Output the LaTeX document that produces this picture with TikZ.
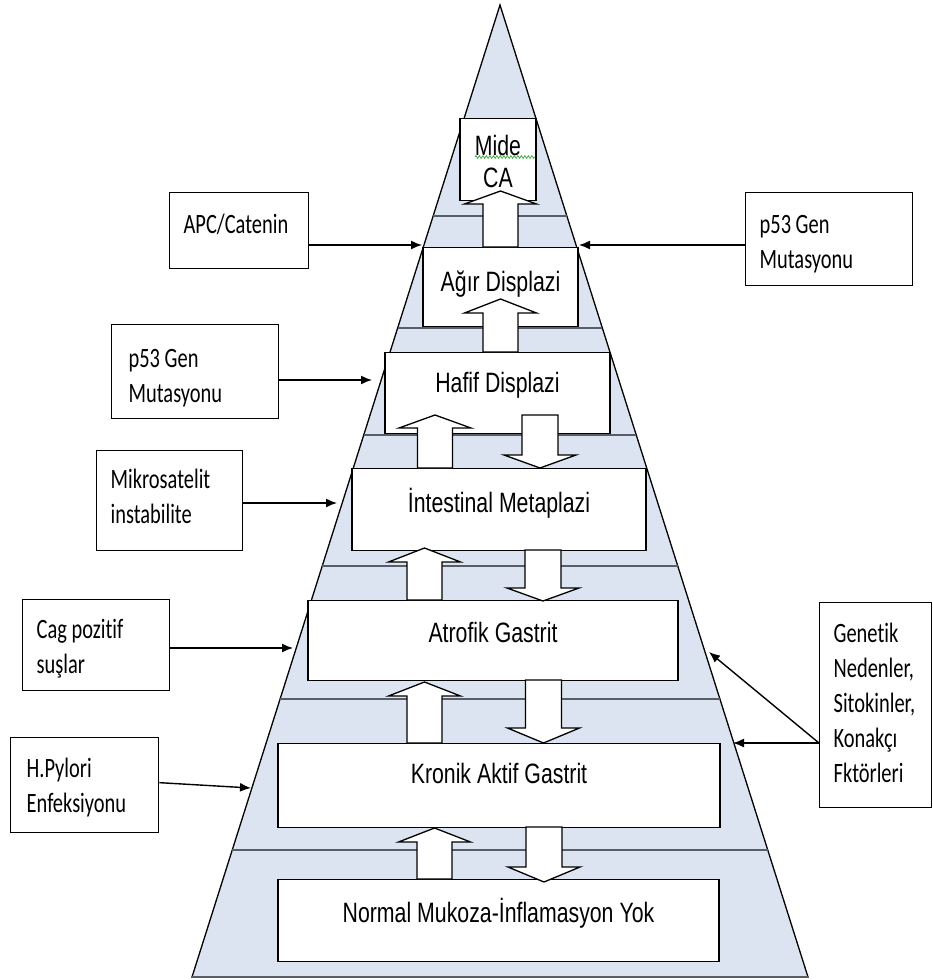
\documentclass[tikz,border=0pt]{standalone}
\usepackage{fontspec}
\newfontfamily\stagefont[FakeStretch=0.76]{Liberation Sans}
\newfontfamily\notefont[FakeStretch=0.73, Ligatures=NoCommon]{Carlito}
\usepackage{tikz}
\usetikzlibrary{arrows.meta, calc, positioning, decorations.pathmorphing}
\pgfdeclarelayer{pyrlayer}
\pgfdeclarelayer{arrowlayer}
\pgfsetlayers{pyrlayer,main,arrowlayer}

\definecolor{pyrblue}{RGB}{219,228,240}
\definecolor{bandgray}{RGB}{88,94,104}
\definecolor{spellgreen}{RGB}{60,170,60}

\tikzset{
	pyramid/.style={fill=pyrblue, draw=black, line width=1.3pt},
	band/.style={draw=bandgray, line width=2.2pt},
	stage/.style={draw=black, fill=white, line width=1.3pt, inner sep=0pt, anchor=north,
		font={\stagefont\fontsize{28}{32}\selectfont}, align=center,
		execute at begin node={\spaceskip=6pt plus 1pt minus 1pt}},
	note/.style={draw=black, fill=white, line width=1.3pt, inner ysep=0pt, anchor=north west,
		font={\notefont\fontsize{28}{35}\selectfont}, align=left,
		execute at begin node={\hyphenpenalty=10000\exhyphenpenalty=10000\spaceskip=4.6pt plus 1pt minus 1pt}},
	feed/.style={-{Latex[length=11pt,width=9pt]}, line width=1.4pt},
	blockarr/.style={draw=black, fill=white, line width=1.3pt, line join=miter},
	squiggle/.style={draw=spellgreen, line width=0.8pt, decorate,
		decoration={zigzag, amplitude=1.3pt, segment length=3.5pt}},
}

\begin{document}
\begin{tikzpicture}[x=1pt, y=-1pt]
	\useasboundingbox (0,0) rectangle (933,980);
	% pyramid and its bands
	\begin{pgfonlayer}{pyrlayer}
		\coordinate (apex) at (500,5);
		\coordinate (bl) at (192,977);
		\coordinate (br) at (808,977);
		\filldraw [pyramid] (apex) -- (bl) -- (br) -- cycle;
		\foreach \y in {216,328,435,566,699,850}
			\draw [band] ($(apex)!{(\y-5)/972}!(bl)$) to ($(apex)!{(\y-5)/972}!(br)$);
		\draw [band] (bl) to (br);
	\end{pgfonlayer}

	% stages
	\node [stage, minimum width=76pt, text height=69pt, text depth=13pt] (mide) at (498,118) {Mide\\CA};
	\node [stage, minimum width=155pt, text height=44pt, text depth=35pt] (agir) at (500.5,247) {Ağır Displazi};
	\node [stage, minimum width=225pt, text height=40pt, text depth=41pt] (hafif) at (497.5,352) {Hafif Displazi};
	\node [stage, minimum width=294pt, text height=44pt, text depth=38pt] (intest) at (499,468) {İntestinal Metaplazi};
	\node [stage, minimum width=370pt, text height=42pt, text depth=38pt] (atrof) at (493,600) {Atrofik Gastrit};
	\node [stage, minimum width=442pt, text height=40pt, text depth=44pt] (kronik) at (499,743) {Kronik Aktif Gastrit};
	\node [stage, minimum width=441pt, text height=43pt, text depth=39pt] (normal) at (498.5,879) {Normal Mukoza-İnflamasyon Yok};

	% factors
	\node [note, inner xsep=14pt, text width=111pt, text height=41pt, text depth=35pt] (apc) at (169,192) {APC/Catenin};
	\node [note, inner xsep=17pt, text width=133pt, text height=43pt, text depth=51pt] (p53l) at (111,324) {p53 Gen\\Mutasyonu};
	\node [note, inner xsep=14pt, text width=118pt, text height=38pt, text depth=62pt] (mikro) at (96,450) {Mikrosatelit\\instabilite};
	\node [note, inner xsep=14pt, text width=119pt, text height=39pt, text depth=52pt] (cag) at (22,599) {Cag pozitif\\suşlar};
	\node [note, inner xsep=16pt, text width=116pt, text height=40pt, text depth=55pt] (hpyl) at (10,737) {H.Pylori\\Enfeksiyonu};
	\node [note, inner xsep=14pt, text width=139pt, text height=41pt, text depth=52pt] (p53r) at (745,192) {p53 Gen\\Mutasyonu};
	\node [note, inner xsep=14pt, text width=84pt, text height=40pt, text depth=165pt] (genet) at (819,602) {Genetik\\Nedenler,\\Sitokinler,\\Konakçı\\Fktörleri};

	% arrow ends on the pyramid side
	\coordinate (e1) at (422,245);
	\coordinate (e2) at (372,380);
	\coordinate (e3) at (337,503);
	\coordinate (e4) at (293,648);
	\coordinate (e5) at (251,788);
	\coordinate (e6) at (579,245);
	\coordinate (e7) at (709,652);
	\coordinate (e8) at (733,743);

	\draw [feed] (apc.east |- e1) to (e1);
	\draw [feed] (p53l.east |- e2) to (e2);
	\draw [feed] (mikro.east |- e3) to (e3);
	\draw [feed] (cag.east |- e4) to (e4);
	\draw [feed] ([yshift=2.5pt]hpyl.east) to (e5);
	\draw [feed] (p53r.west |- e6) to (e6);
	\draw [feed] (genet.west |- e8) to (e7);
	\draw [feed] (genet.west |- e8) to (e8);

	% block arrows between stages
	\begin{pgfonlayer}{arrowlayer}
		\foreach \cx/\yb/\yh/\yt in {500.5/247/204/191, 500.5/352/313/299, 435/468/428/415,
				424.5/600/562/548, 424.5/743/696/682, 434.5/879/842/828}
			\draw [blockarr] (\cx-17.5,\yb) -- (\cx-17.5,\yh) -- (\cx-36,\yh) -- (\cx,\yt)
				-- (\cx+36,\yh) -- (\cx+17.5,\yh) -- (\cx+17.5,\yb) -- cycle;
		\foreach \cx/\yb/\yh/\yt in {540/415/455/468, 543/550/588/601,
				543.5/680/728/743, 544/827/867/882}
			\draw [blockarr] (\cx-18,\yb) -- (\cx-18,\yh) -- (\cx-36,\yh) -- (\cx,\yt)
				-- (\cx+36,\yh) -- (\cx+18,\yh) -- (\cx+18,\yb) -- cycle;
		\draw [squiggle] (475,157) to (535,157);
	\end{pgfonlayer}
\end{tikzpicture}
\end{document}
